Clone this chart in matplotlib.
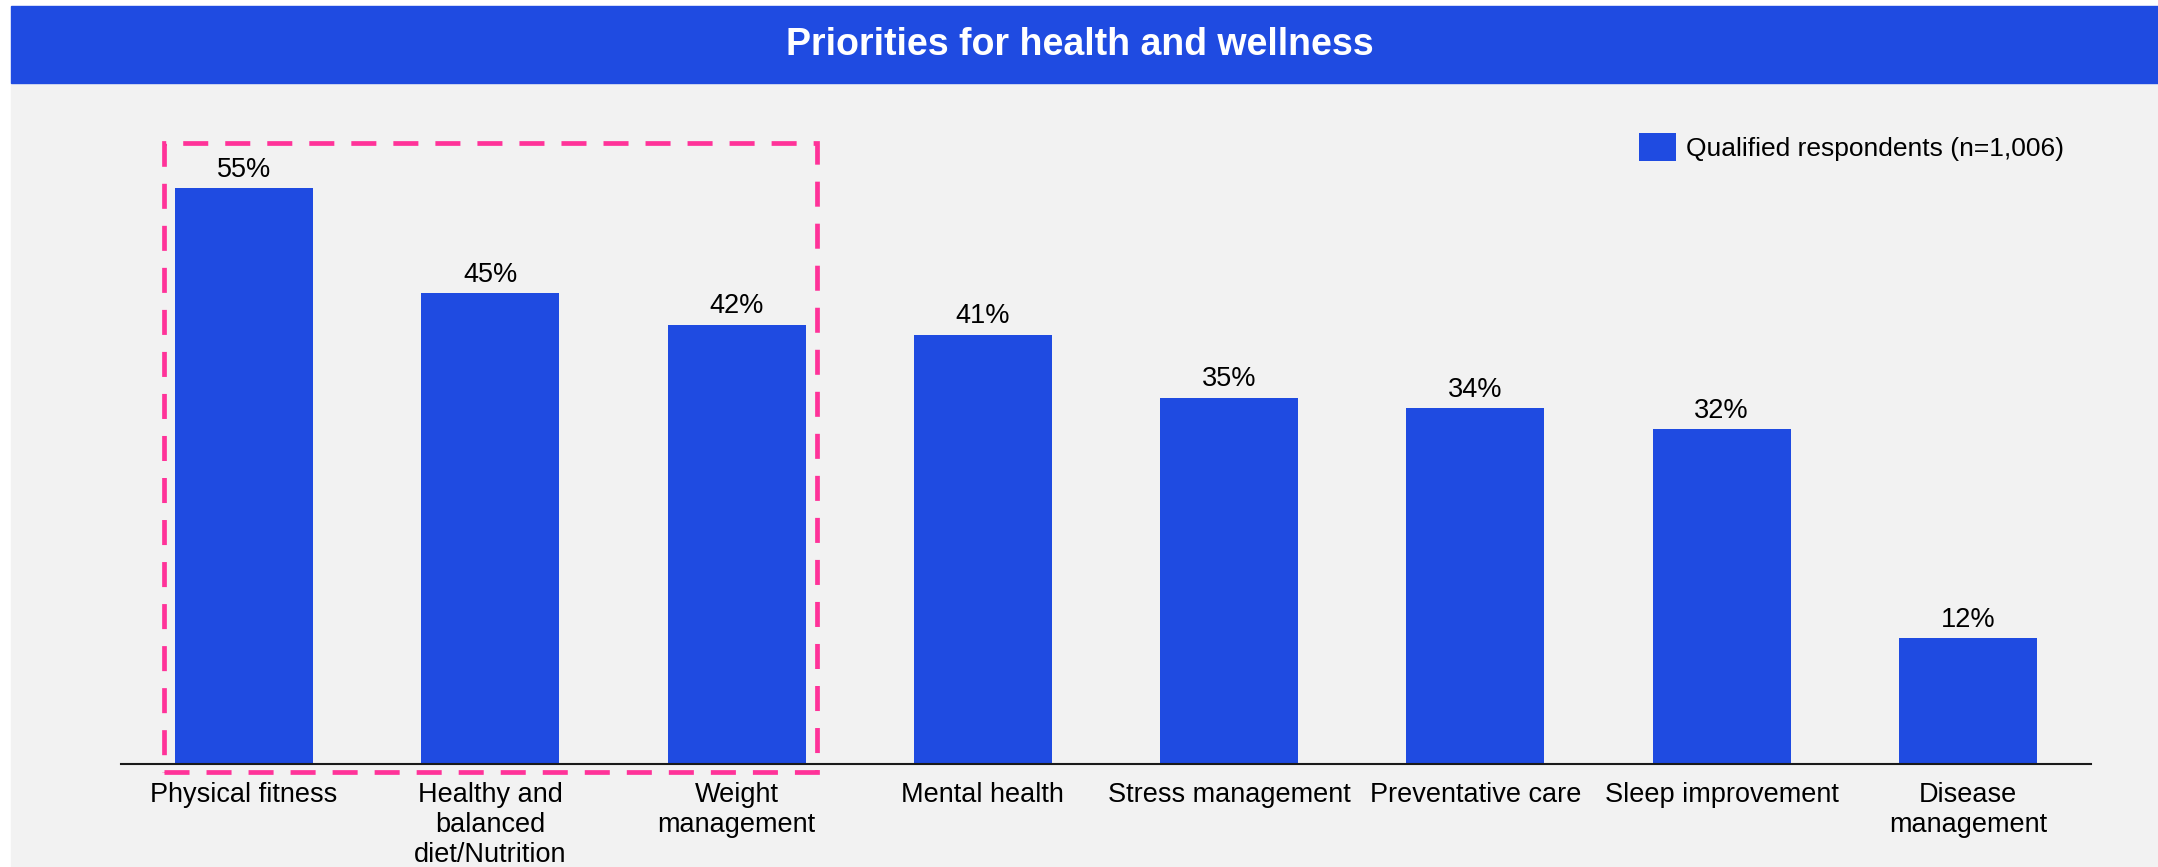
import matplotlib
matplotlib.use('Agg')
import matplotlib.pyplot as plt
from matplotlib.patches import Rectangle

plt.rcParams['font.family'] = ['Liberation Sans', 'DejaVu Sans']

# survey results
categories = [
    'Physical fitness',
    'Healthy and\nbalanced\ndiet/Nutrition',
    'Weight\nmanagement',
    'Mental health',
    'Stress management',
    'Preventative care',
    'Sleep improvement',
    'Disease\nmanagement',
]
values = [55, 45, 42, 41, 35, 34, 32, 12]
series_name = 'Qualified respondents (n=1,006)'
highlighted = [0, 1, 2]  # first three priorities get the dashed box
title = 'Priorities for health and wellness'

BLUE = '#1F4BE1'
PINK = '#FF3399'
GRAY = '#F2F2F2'
FS = 19.5

W, H = 2158, 867
fig = plt.figure(figsize=(W / 100, H / 100), dpi=100)
fig.patch.set_facecolor('white')

# page background and title banner
fig.add_artist(Rectangle((11 / W, 0), 1 - 11 / W, 1 - 83 / H,
                         transform=fig.transFigure, color=GRAY, zorder=0))
fig.add_artist(Rectangle((11 / W, 1 - 83 / H), 1 - 11 / W, 77 / H,
                         transform=fig.transFigure, color=BLUE, zorder=0))
fig.text(1080 / W, 1 - 45 / H, title, color='white', fontsize=27,
         fontweight='bold', ha='center', va='center')

ax = fig.add_axes([121 / W, (H - 764) / H, 1970 / W, 654 / H])
ax.set_facecolor('none')

x = list(range(len(categories)))
bar_w = 0.56
bars = ax.bar(x, values, width=bar_w, color=BLUE, label=series_name, zorder=2)
ax.bar_label(bars, labels=[f'{v}%' for v in values], padding=4, fontsize=FS)

ax.set_xlim(-0.5, len(categories) - 0.5)
ax.set_ylim(0, 62.5)
ax.set_xticks(x)
ax.set_xticklabels(categories, fontsize=FS, linespacing=1.2)
ax.tick_params(axis='x', length=0, pad=13)
ax.set_yticks([])
for side in ['left', 'right', 'top']:
    ax.spines[side].set_visible(False)
ax.spines['bottom'].set_linewidth(1.5)
ax.spines['bottom'].set_color('#1a1a1a')

# dashed highlight around the top three
pad = 0.045
left = highlighted[0] - bar_w / 2 - pad
right = highlighted[-1] + bar_w / 2 + pad
top = max(values[i] for i in highlighted) + 4.3
bottom = -0.75
ax.add_patch(Rectangle((left, bottom), right - left, top - bottom, fill=False,
                       edgecolor=PINK, linewidth=3.4, linestyle=(0, (5.3, 3.6)),
                       clip_on=False, zorder=3))

leg = ax.legend(loc='center left', bbox_to_anchor=(1639 / W, 1 - 147 / H),
                bbox_transform=fig.transFigure, frameon=False, fontsize=19,
                borderpad=0, borderaxespad=0, handlelength=1.4,
                handleheight=1.28, handletextpad=0.4)

fig.savefig('out.png', dpi=100)
